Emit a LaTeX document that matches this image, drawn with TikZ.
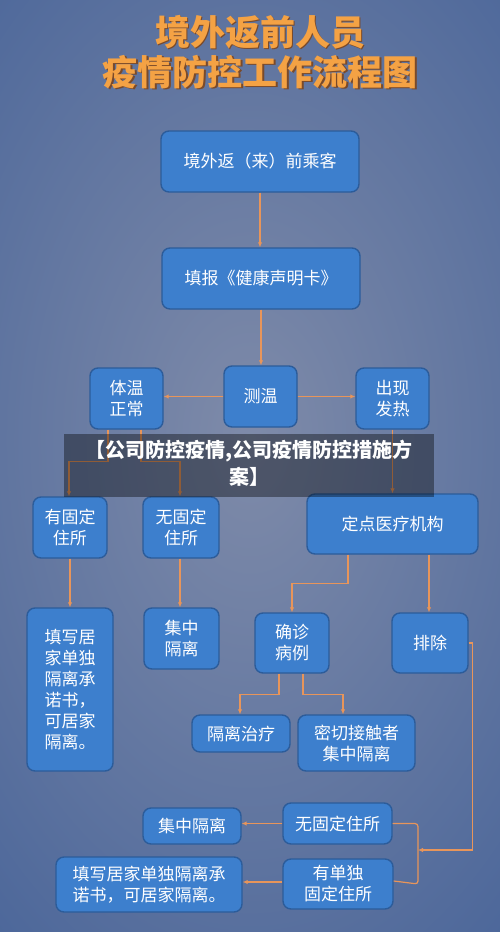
\documentclass[tikz,border=0pt]{standalone}
\usepackage{fontspec}
\newfontfamily\cjk{Noto Sans CJK SC}
\usetikzlibrary{arrows.meta}
\definecolor{bgedge}{HTML}{3E5D96}
\definecolor{bgmid}{HTML}{7F8BA9}
\definecolor{boxfill}{HTML}{3D7FCD}
\definecolor{boxline}{HTML}{2C5C9A}
\definecolor{arr}{HTML}{E8955A}
\definecolor{titleor}{HTML}{F4A244}
\definecolor{titlesh}{HTML}{7A4A2A}
\begin{document}
\begin{tikzpicture}[x=1pt,y=-1pt,
  box/.style={draw=boxline, line width=1.4pt, fill=boxfill, rounded corners=8pt,
    text=white, font=\cjk\fontsize{17}{21}\selectfont, align=center, inner sep=0pt},
  conn/.style={draw=arr, line width=1.2pt},
  arrow/.style={conn, -{Latex[length=5pt,width=4.5pt]}}]
\useasboundingbox (0,0) rectangle (500,932);
% background
\begin{scope}
  \clip (0,0) rectangle (500,932);
  \fill[bgedge] (0,0) rectangle (500,932);
  \shade[inner color=bgmid, outer color=bgedge] (250,440) ellipse [x radius=520, y radius=820];
\end{scope}
% title
\node[font=\cjk\bfseries\fontsize{35}{40}\selectfont, text=titlesh, align=center] (titlesh) at (261.5,53.5) {境外返前人员\\疫情防控工作流程图};
\node[font=\cjk\bfseries\fontsize{35}{40}\selectfont, text=titleor, align=center] (title) at (260,52) {境外返前人员\\疫情防控工作流程图};
% boxes
\node[box, minimum width=198pt, minimum height=61pt] (b1) at (260,161.5) {境外返（来）前乘客};
\node[box, minimum width=198pt, minimum height=61pt] (b2) at (261,278.5) {填报《健康声明卡》};
\node[box, minimum width=73pt, minimum height=61pt] (tn) at (126.5,398.5) {体温\\正常};
\node[box, minimum width=73pt, minimum height=61pt] (ce) at (260.5,396.5) {测温};
\node[box, minimum width=73pt, minimum height=61pt] (fa) at (392.5,398.5) {出现\\发热};
\node[box, minimum width=74pt, minimum height=61pt] (you) at (70,527.5) {有固定\\住所};
\node[box, minimum width=76pt, minimum height=61pt] (wu) at (181,527.5) {无固定\\住所};
\node[box, minimum width=171pt, minimum height=60pt] (dd) at (392.5,524) {定点医疗机构};
\node[box, minimum width=86pt, minimum height=163pt, align=left] (tall) at (70,689.5) {填写居\\家单独\\隔离承\\诺书，\\可居家\\隔离。};
\node[box, minimum width=75pt, minimum height=61pt] (jz1) at (181.5,638.5) {集中\\隔离};
\node[box, minimum width=74pt, minimum height=60pt] (qz) at (292,643) {确诊\\病例};
\node[box, minimum width=76pt, minimum height=60pt] (pc) at (430,643) {排除};
\node[box, minimum width=98pt, minimum height=37pt] (glzl) at (241,733.5) {隔离治疗};
\node[box, minimum width=117pt, minimum height=56pt] (mq) at (356.5,743) {密切接触者\\集中隔离};
\node[box, minimum width=109pt, minimum height=41pt] (wg) at (337.5,823.5) {无固定住所};
\node[box, minimum width=98pt, minimum height=36pt] (jz2) at (192,826) {集中隔离};
\node[box, minimum width=110pt, minimum height=50pt] (yd) at (338,884) {有单独\\固定住所};
\node[box, minimum width=186pt, minimum height=55pt] (wide) at (149,884.5) {填写居家单独隔离承\\诺书，可居家隔离。};
% connectors
\coordinate (tnL) at ([xshift=-18.5pt]tn.south);
\coordinate (tnR) at ([xshift=14.5pt]tn.south);
\coordinate (ddL) at ([xshift=-44.5pt]dd.south);
\coordinate (ddR) at ([xshift=36.5pt]dd.south);
\coordinate (qzL) at ([xshift=-13pt]qz.south);
\coordinate (qzR) at ([xshift=11pt]qz.south);
\coordinate (br) at (418,850);
\draw[arrow] (b1.south) -- (b1.south |- b2.north);
\draw[arrow] (b2.south) -- (b2.south |- ce.north);
\draw[arrow] (ce.west) -- (ce.west -| tn.east);
\draw[arrow] (ce.east) -- (ce.east -| fa.west);
\draw[arrow] (tnL) -- ++(0,32) -| ([xshift=-1pt]you.north);
\draw[arrow] (tnR) -- ++(0,32) -| ([xshift=-1pt]wu.north);
\draw[arrow] (fa.south) -- (fa.south |- dd.north);
\draw[arrow] (ddL) -- ++(0,29) -| (qz.north);
\draw[arrow] (ddR) -- (ddR |- pc.north);
\draw[arrow] (you.south) -- (tall.north);
\draw[arrow] ([xshift=-1pt]wu.south) -- ([xshift=-1pt]wu.south |- jz1.north);
\draw[arrow] (qzL) -- ++(0,21) -| ([xshift=-1pt]glzl.north);
\draw[arrow] (qzR) -- ++(0,21) -| ([xshift=-13.5pt]mq.north);
\draw[arrow] (pc.east) -- ++(4,0) |- (br);
\draw[conn, rounded corners=3pt] (wg.east) -- (br |- wg.east) -- (br |- yd.east) -- ([yshift=3pt]yd.east);
\draw[arrow] (wg.west) -- (wg.west -| jz2.east);
\draw[arrow] ([yshift=2pt]yd.west) -- ([yshift=2pt]yd.west -| wide.east);
% banner overlay
\fill[black, opacity=0.38] (64,434) rectangle (434,497);
\node[font=\cjk\bfseries\fontsize{20}{27}\selectfont, text=white, align=center] (ban) at (249,463.5) {【公司防控疫情,公司疫情防控措施方\\案】};
\end{tikzpicture}
\end{document}
